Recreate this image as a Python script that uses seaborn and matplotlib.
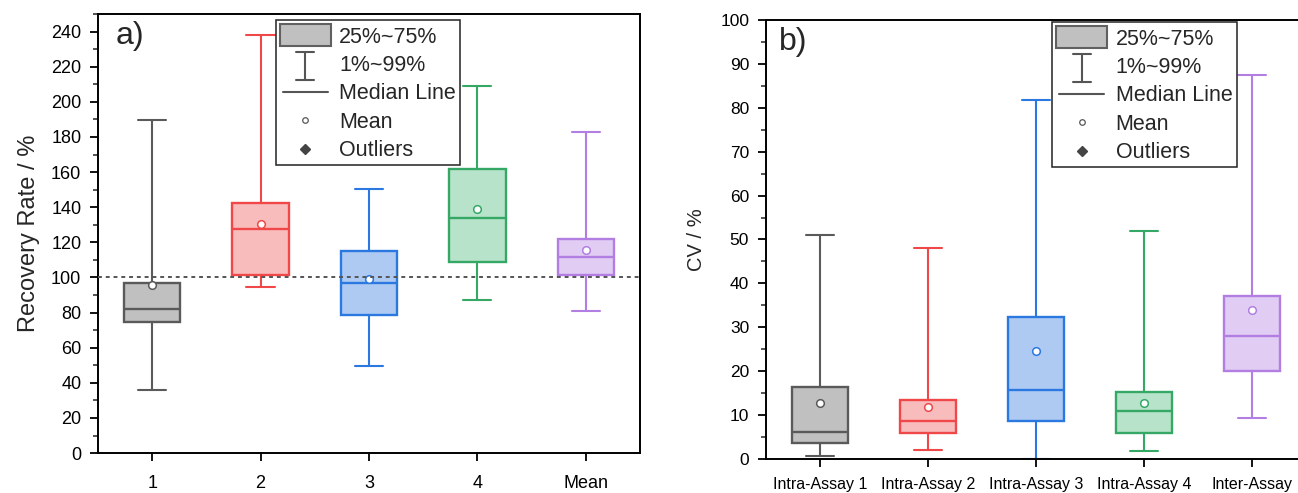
import matplotlib
matplotlib.use("Agg")
import matplotlib.pyplot as plt
import seaborn as sns
from matplotlib.lines import Line2D
from matplotlib.patches import Rectangle
from matplotlib.legend_handler import HandlerBase
from matplotlib.ticker import MultipleLocator

# ---------------- data ----------------
cats_a = ["1", "2", "3", "4", "Mean"]
a_low = [36.1, 94.3, 49.6, 87.3, 81.0]
a_q1 = [74.7, 101.4, 78.4, 109.0, 101.6]
a_med = [81.8, 127.6, 97.0, 134.1, 111.8]
a_q3 = [97.0, 142.4, 115.3, 162.0, 121.9]
a_high = [189.4, 238.1, 150.2, 209.0, 183.0]
a_mean = [95.7, 130.3, 99.3, 139.0, 115.4]

cats_b = ["Intra-Assay 1", "Intra-Assay 2", "Intra-Assay 3", "Intra-Assay 4", "Inter-Assay"]
b_low = [0.7, 2.1, 0.0, 1.9, 9.3]
b_q1 = [3.65, 6.0, 8.6, 6.0, 20.0]
b_med = [6.2, 8.75, 15.7, 11.0, 28.1]
b_q3 = [16.5, 13.4, 32.3, 15.2, 37.2]
b_high = [50.95, 48.0, 81.75, 51.9, 87.5]
b_mean = [12.7, 11.9, 24.6, 12.7, 34.0]

legend_labels = ["25%~75%", "1%~99%", "Median Line", "Mean", "Outliers"]

edge_colors = ["#5a5a5a", "#f04848", "#2a78e0", "#35a866", "#b27ee2"]
fill_colors = ["#c0c0c0", "#f9bcbd", "#aecaf2", "#b8e3cb", "#e1cdf4"]

sns.set_theme(style="ticks")
plt.rcParams["font.family"] = ["Liberation Sans", "DejaVu Sans"]

fig = plt.figure(figsize=(12.98, 4.93), dpi=100)
ax_a = fig.add_axes([0.0755, 0.081, 0.4175, 0.8906])
ax_b = fig.add_axes([0.590, 0.069, 0.416, 0.8905])


class HandlerWhisker(HandlerBase):
    def create_artists(self, legend, orig_handle, xdescent, ydescent, width, height, fontsize, trans):
        cx = width / 2 - xdescent
        cy = height / 2 - ydescent - 1.5
        y0 = cy - 10
        y1 = cy + 10
        c = "#555555"
        lw = 1.5
        return [Line2D([cx, cx], [y0, y1], color=c, lw=lw, transform=trans),
                Line2D([cx - 6.5, cx + 6.5], [y0, y0], color=c, lw=lw, transform=trans),
                Line2D([cx - 6.5, cx + 6.5], [y1, y1], color=c, lw=lw, transform=trans)]


class HandlerShortLine(HandlerBase):
    def create_artists(self, legend, orig_handle, xdescent, ydescent, width, height, fontsize, trans):
        cx = width / 2 - xdescent
        cy = height / 2 - ydescent
        return [Line2D([cx - 16, cx + 16], [cy, cy], color="#555555", lw=1.5, transform=trans)]


class HandlerMarker(HandlerBase):
    def create_artists(self, legend, orig_handle, xdescent, ydescent, width, height, fontsize, trans):
        cx = width / 2 - xdescent
        cy = height / 2 - ydescent
        m = Line2D([cx], [cy], marker=orig_handle.get_marker(), markersize=orig_handle.get_markersize(),
                   markerfacecolor=orig_handle.get_markerfacecolor(),
                   markeredgecolor=orig_handle.get_markeredgecolor(),
                   markeredgewidth=orig_handle.get_markeredgewidth(), linestyle="none", transform=trans)
        return [m]


class WhiskerKey:
    pass


class MedianKey:
    pass


def draw_panel(ax, cats, low, q1, med, q3, high, mean, tick_fs, xtick_fs, xpad):
    pos = list(range(1, len(cats) + 1))
    for i in range(len(cats)):
        s = dict(label=cats[i], whislo=low[i], q1=q1[i], med=med[i], q3=q3[i],
                 whishi=high[i], mean=mean[i], fliers=[])
        ec = edge_colors[i]
        ax.bxp([s], positions=[pos[i]], widths=0.52, patch_artist=True, showmeans=True,
               showfliers=False, manage_ticks=False,
               boxprops=dict(facecolor=fill_colors[i], edgecolor=ec, linewidth=1.7),
               whiskerprops=dict(color=ec, linewidth=1.5),
               capprops=dict(color=ec, linewidth=1.5),
               medianprops=dict(color=ec, linewidth=1.7),
               meanprops=dict(marker="o", markerfacecolor="white", markeredgecolor=ec,
                              markersize=5.5, markeredgewidth=1.1),
               capwidths=0.26)
    ax.set_xticks(pos)
    ax.set_xticklabels(cats)
    ax.set_xlim(0.5, len(cats) + 0.5)
    for sp in ax.spines.values():
        sp.set_color("black")
        sp.set_linewidth(1.4)
    ax.tick_params(axis="both", direction="out", length=6, width=1.3, colors="black",
                   labelsize=tick_fs, pad=6)
    ax.tick_params(axis="x", labelsize=xtick_fs, pad=xpad)
    ax.tick_params(axis="y", which="minor", direction="out", length=3.5, width=1.1, left=True)
    ax.tick_params(axis="x", which="minor", bottom=False)
    ax.grid(False)


draw_panel(ax_a, cats_a, a_low, a_q1, a_med, a_q3, a_high, a_mean, 13, 13, 10)
ax_a.set_ylim(0, 250)
ax_a.set_yticks(list(range(0, 241, 20)))
ax_a.yaxis.set_minor_locator(MultipleLocator(10))
ax_a.axhline(100, color="#555555", linestyle=(0, (2, 2)), linewidth=1.4, zorder=5)
ax_a.set_ylabel("Recovery Rate / %", fontsize=17, labelpad=8)
ax_a.text(0.033, 0.985, "a)", transform=ax_a.transAxes, fontsize=23, va="top", ha="left")

draw_panel(ax_b, cats_b, b_low, b_q1, b_med, b_q3, b_high, b_mean, 12.5, 11.5, 7)
ax_b.set_ylim(0, 100)
ax_b.set_yticks(list(range(0, 101, 10)))
ax_b.yaxis.set_minor_locator(MultipleLocator(5))
ax_b.spines["right"].set_visible(False)
ax_b.set_ylabel("CV / %", fontsize=14.5, labelpad=10)
ax_b.text(0.024, 0.985, "b)", transform=ax_b.transAxes, fontsize=23, va="top", ha="left")


def add_legend(ax, anchor):
    h_box = Rectangle((0, 0), 1, 1, facecolor="#c0c0c0", edgecolor="#606060", linewidth=1.5)
    h_mean = Line2D([], [], marker="o", markersize=4, markerfacecolor="white",
                    markeredgecolor="#555555", markeredgewidth=0.9, linestyle="none")
    h_out = Line2D([], [], marker="D", markersize=5, markerfacecolor="#444444",
                   markeredgecolor="#444444", linestyle="none")
    leg = ax.legend([h_box, WhiskerKey(), MedianKey(), h_mean, h_out], legend_labels,
                    handler_map={WhiskerKey: HandlerWhisker(), MedianKey: HandlerShortLine(),
                                 Line2D: HandlerMarker()},
                    loc="upper left", bbox_to_anchor=anchor, fontsize=15.5,
                    handlelength=2.35, handleheight=1.18, labelspacing=0.24,
                    handletextpad=0.4, borderpad=0.2, borderaxespad=0.0,
                    frameon=True, fancybox=False, edgecolor="#222222", framealpha=1)
    leg.get_frame().set_linewidth(1.1)
    leg.set_zorder(10)


add_legend(ax_a, (0.328, 0.986))
add_legend(ax_b, (0.53, 0.995))

fig.savefig("out.png", dpi=100)
